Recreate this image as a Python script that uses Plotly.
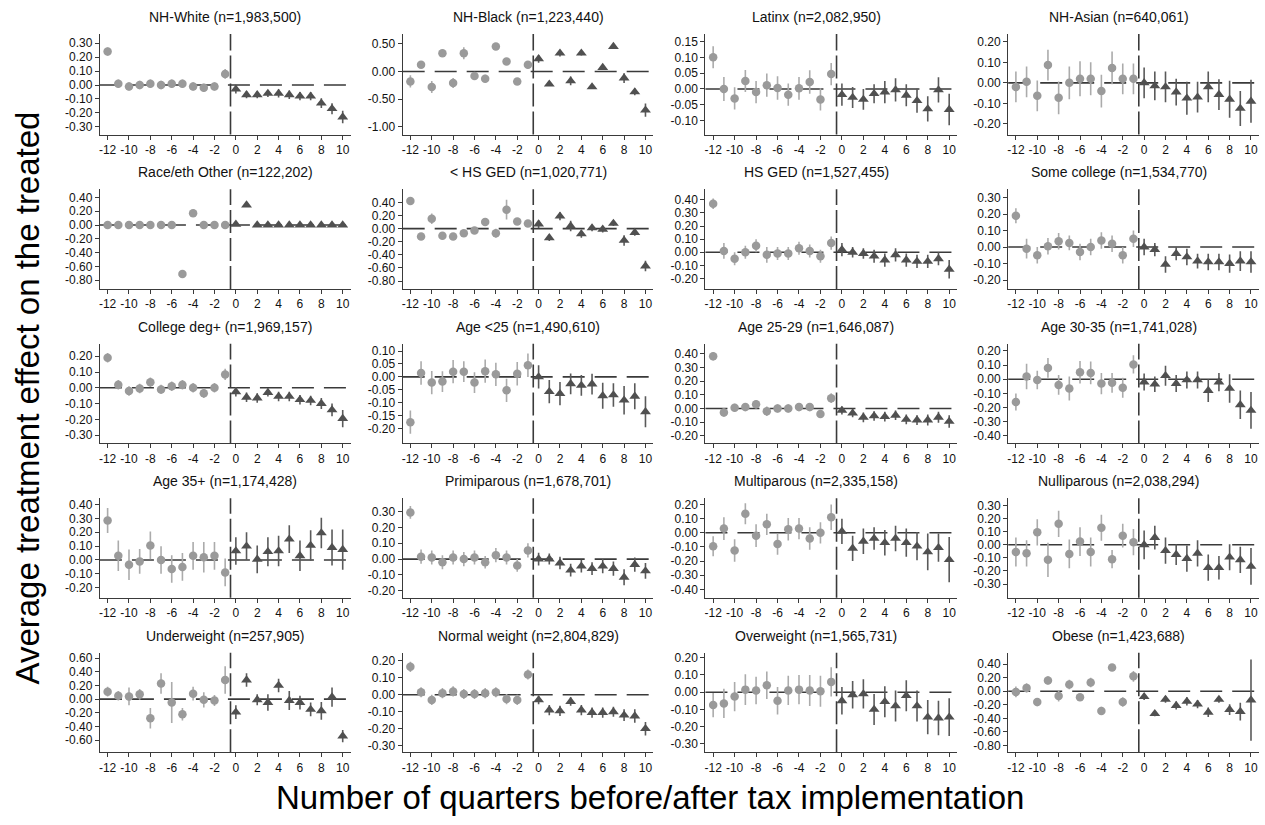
import plotly.graph_objects as go

quarters = list(range(-12, 11))
x_tickvals = [-12, -10, -8, -6, -4, -2, 0, 2, 4, 6, 8, 10]
x_ticktext = ["-12", "-10", "-8", "-6", "-4", "-2", "0", "2", "4", "6", "8", "10"]

titles = [
    "NH-White (n=1,983,500)", "NH-Black (n=1,223,440)", "Latinx (n=2,082,950)", "NH-Asian (n=640,061)",
    "Race/eth Other (n=122,202)", "< HS GED (n=1,020,771)", "HS GED (n=1,527,455)", "Some college (n=1,534,770)",
    "College deg+ (n=1,969,157)", "Age <25 (n=1,490,610)", "Age 25-29 (n=1,646,087)", "Age 30-35 (n=1,741,028)",
    "Age 35+ (n=1,174,428)", "Primiparous (n=1,678,701)", "Multiparous (n=2,335,158)", "Nulliparous (n=2,038,294)",
    "Underweight (n=257,905)", "Normal weight (n=2,804,829)", "Overweight (n=1,565,731)", "Obese (n=1,423,688)",
]

nh_white_est = [0.24, 0.01, -0.01, 0.00, 0.01, 0.00, 0.01, 0.01, -0.01, -0.02, -0.01, 0.08, -0.03, -0.07, -0.07, -0.06, -0.06, -0.07, -0.08, -0.08, -0.13, -0.17, -0.23]
nh_white_ci = [0.03, 0.03, 0.03, 0.03, 0.03, 0.03, 0.03, 0.03, 0.03, 0.03, 0.03, 0.035, 0.03, 0.025, 0.025, 0.025, 0.03, 0.03, 0.03, 0.03, 0.035, 0.04, 0.045]
nh_black_est = [-0.18, 0.12, -0.28, 0.33, -0.21, 0.33, -0.08, -0.13, 0.45, 0.18, -0.18, 0.12, 0.23, -0.23, 0.33, -0.17, 0.33, -0.28, 0.07, 0.45, -0.12, -0.37, -0.70]
nh_black_ci = [0.11, 0.05, 0.11, 0.05, 0.09, 0.11, 0.03, 0.07, 0.04, 0.03, 0.05, 0.07, 0.07, 0.02, 0.06, 0.08, 0.04, 0.03, 0.04, 0.02, 0.09, 0.06, 0.12]
latinx_est = [0.10, 0.00, -0.03, 0.025, -0.01, 0.012, 0.003, -0.018, 0.002, 0.022, -0.033, 0.047, -0.018, -0.027, -0.033, -0.015, -0.01, -0.003, -0.02, -0.037, -0.063, -0.003, -0.065]
latinx_ci = [0.035, 0.038, 0.035, 0.035, 0.035, 0.037, 0.037, 0.035, 0.036, 0.037, 0.035, 0.035, 0.035, 0.033, 0.033, 0.03, 0.035, 0.037, 0.035, 0.038, 0.04, 0.04, 0.05]
nh_asian_est = [-0.02, 0.005, -0.063, 0.087, -0.073, 0.00, 0.02, 0.02, -0.04, 0.073, 0.02, 0.02, 0.00, -0.015, -0.02, -0.045, -0.075, -0.07, -0.02, -0.057, -0.08, -0.125, -0.09]
nh_asian_ci = [0.075, 0.075, 0.075, 0.075, 0.08, 0.08, 0.085, 0.08, 0.08, 0.08, 0.075, 0.075, 0.075, 0.07, 0.075, 0.065, 0.08, 0.075, 0.075, 0.075, 0.09, 0.085, 0.105]
other_est = [0.0, 0.0, 0.0, 0.0, 0.0, 0.0, 0.0, -0.71, 0.17, 0.0, 0.0, 0.0, 0.01, 0.29, 0.0, 0.0, 0.0, 0.0, 0.0, 0.0, 0.0, 0.0, 0.0]
other_ci = [0.005, 0.005, 0.005, 0.005, 0.005, 0.005, 0.005, 0.01, 0.01, 0.005, 0.005, 0.005, 0.005, 0.01, 0.005, 0.005, 0.005, 0.005, 0.005, 0.005, 0.005, 0.005, 0.005]
lt_hs_est = [0.42, -0.12, 0.15, -0.11, -0.12, -0.07, -0.03, 0.10, -0.07, 0.29, 0.11, 0.08, 0.07, -0.14, 0.19, 0.04, -0.08, 0.01, -0.01, 0.08, -0.18, -0.06, -0.57]
lt_hs_ci = [0.04, 0.04, 0.08, 0.05, 0.05, 0.05, 0.04, 0.03, 0.07, 0.15, 0.04, 0.04, 0.06, 0.05, 0.06, 0.08, 0.06, 0.05, 0.05, 0.04, 0.08, 0.05, 0.08]
hs_est = [0.37, 0.01, -0.05, 0.00, 0.05, -0.02, -0.01, -0.01, 0.03, 0.01, -0.03, 0.07, 0.02, 0.00, -0.01, -0.03, -0.06, -0.02, -0.06, -0.07, -0.07, -0.05, -0.13]
hs_ci = [0.04, 0.06, 0.05, 0.05, 0.05, 0.06, 0.05, 0.05, 0.05, 0.05, 0.05, 0.05, 0.05, 0.04, 0.04, 0.05, 0.05, 0.05, 0.05, 0.05, 0.05, 0.05, 0.07]
some_col_est = [0.19, -0.01, -0.05, 0.005, 0.035, 0.025, -0.03, 0.00, 0.04, 0.02, -0.05, 0.05, 0.00, -0.015, -0.105, -0.04, -0.06, -0.085, -0.09, -0.09, -0.10, -0.085, -0.09]
some_col_ci = [0.045, 0.06, 0.05, 0.05, 0.05, 0.045, 0.05, 0.05, 0.05, 0.05, 0.05, 0.05, 0.05, 0.04, 0.05, 0.04, 0.05, 0.045, 0.05, 0.05, 0.055, 0.06, 0.065]
col_deg_est = [0.19, 0.02, -0.02, -0.005, 0.035, -0.01, 0.01, 0.02, 0.00, -0.035, 0.00, 0.085, -0.025, -0.06, -0.065, -0.03, -0.055, -0.055, -0.075, -0.08, -0.10, -0.14, -0.195]
col_deg_ci = [0.03, 0.03, 0.03, 0.03, 0.03, 0.03, 0.03, 0.03, 0.03, 0.03, 0.03, 0.035, 0.03, 0.03, 0.03, 0.025, 0.03, 0.03, 0.03, 0.03, 0.035, 0.04, 0.055]
age_lt25_est = [-0.175, 0.015, -0.022, -0.018, 0.02, 0.02, -0.022, 0.022, 0.01, -0.052, 0.012, 0.045, 0.00, -0.057, -0.065, -0.027, -0.033, -0.028, -0.073, -0.07, -0.09, -0.075, -0.135]
age_lt25_ci = [0.045, 0.045, 0.045, 0.04, 0.045, 0.04, 0.04, 0.045, 0.045, 0.045, 0.045, 0.045, 0.045, 0.045, 0.045, 0.04, 0.04, 0.04, 0.05, 0.045, 0.055, 0.05, 0.06]
age_2529_est = [0.38, -0.03, 0.005, 0.01, 0.03, -0.02, 0.00, 0.00, 0.01, 0.01, -0.04, 0.075, -0.015, -0.035, -0.065, -0.055, -0.06, -0.05, -0.08, -0.085, -0.085, -0.065, -0.095]
age_2529_ci = [0.03, 0.03, 0.03, 0.03, 0.03, 0.035, 0.03, 0.03, 0.03, 0.03, 0.03, 0.035, 0.03, 0.03, 0.035, 0.035, 0.035, 0.035, 0.035, 0.035, 0.04, 0.04, 0.045]
age_3035_est = [-0.16, 0.02, -0.005, 0.08, -0.04, -0.065, 0.05, 0.045, -0.03, -0.025, -0.06, 0.105, -0.02, -0.035, 0.025, -0.03, -0.005, -0.005, -0.08, -0.02, -0.065, -0.18, -0.22]
age_3035_ci = [0.06, 0.09, 0.065, 0.07, 0.07, 0.085, 0.08, 0.08, 0.075, 0.07, 0.07, 0.065, 0.06, 0.055, 0.07, 0.06, 0.06, 0.06, 0.08, 0.065, 0.10, 0.10, 0.13]
age_35p_est = [0.285, 0.03, -0.035, -0.01, 0.105, 0.00, -0.065, -0.05, 0.03, 0.02, 0.03, -0.09, 0.065, 0.10, 0.005, 0.06, 0.065, 0.15, 0.03, 0.105, 0.195, 0.09, 0.075]
age_35p_ci = [0.09, 0.11, 0.11, 0.09, 0.10, 0.10, 0.10, 0.10, 0.10, 0.11, 0.10, 0.10, 0.10, 0.10, 0.10, 0.105, 0.11, 0.10, 0.11, 0.11, 0.11, 0.13, 0.145]
primi_est = [0.295, 0.015, 0.01, -0.02, 0.01, 0.00, 0.01, -0.02, 0.025, 0.01, -0.04, 0.055, 0.00, 0.00, -0.025, -0.07, -0.045, -0.06, -0.045, -0.06, -0.115, -0.035, -0.075]
primi_ci = [0.04, 0.045, 0.045, 0.045, 0.045, 0.045, 0.045, 0.04, 0.045, 0.045, 0.04, 0.045, 0.04, 0.035, 0.04, 0.04, 0.04, 0.04, 0.045, 0.045, 0.05, 0.045, 0.05]
multi_est = [-0.095, 0.03, -0.125, 0.135, -0.02, 0.06, -0.08, 0.025, 0.03, -0.04, 0.00, 0.11, 0.01, -0.11, -0.06, -0.04, -0.07, -0.04, -0.07, -0.095, -0.135, -0.105, -0.19]
multi_ci = [0.07, 0.08, 0.08, 0.075, 0.08, 0.075, 0.075, 0.08, 0.075, 0.08, 0.075, 0.09, 0.09, 0.09, 0.09, 0.08, 0.09, 0.09, 0.10, 0.10, 0.13, 0.10, 0.16]
nulli_est = [-0.055, -0.065, 0.095, -0.115, 0.16, -0.07, 0.025, -0.055, 0.13, -0.11, 0.07, 0.02, 0.00, 0.055, -0.045, -0.075, -0.105, -0.065, -0.175, -0.175, -0.095, -0.115, -0.165]
nulli_ci = [0.11, 0.10, 0.10, 0.13, 0.10, 0.11, 0.11, 0.11, 0.10, 0.07, 0.09, 0.10, 0.11, 0.09, 0.10, 0.08, 0.10, 0.10, 0.10, 0.09, 0.10, 0.10, 0.14]
under_est = [0.11, 0.05, 0.04, 0.07, -0.28, 0.23, -0.05, -0.22, 0.08, -0.01, -0.02, 0.28, -0.19, 0.28, -0.01, -0.05, 0.20, -0.02, -0.05, -0.15, -0.17, 0.03, -0.54]
under_ci = [0.07, 0.07, 0.13, 0.08, 0.15, 0.15, 0.30, 0.09, 0.10, 0.11, 0.08, 0.20, 0.10, 0.10, 0.08, 0.12, 0.10, 0.14, 0.10, 0.10, 0.13, 0.14, 0.09]
normal_est = [0.165, 0.015, -0.03, 0.01, 0.02, 0.005, 0.005, 0.01, 0.015, -0.025, -0.03, 0.12, -0.03, -0.09, -0.095, -0.04, -0.09, -0.105, -0.105, -0.10, -0.12, -0.125, -0.20]
normal_ci = [0.03, 0.03, 0.03, 0.03, 0.03, 0.03, 0.03, 0.03, 0.03, 0.03, 0.03, 0.03, 0.025, 0.03, 0.03, 0.025, 0.03, 0.03, 0.03, 0.03, 0.035, 0.04, 0.04]
over_est = [-0.075, -0.065, -0.025, 0.015, 0.01, 0.04, -0.05, 0.01, 0.015, 0.01, 0.005, 0.06, -0.05, -0.015, -0.01, -0.10, -0.055, -0.08, -0.02, -0.08, -0.145, -0.15, -0.145]
over_ci = [0.07, 0.085, 0.085, 0.09, 0.08, 0.08, 0.08, 0.085, 0.085, 0.09, 0.09, 0.085, 0.08, 0.08, 0.085, 0.09, 0.09, 0.09, 0.09, 0.09, 0.10, 0.10, 0.11]
obese_est = [-0.01, 0.05, -0.16, 0.16, -0.07, 0.10, -0.09, 0.13, -0.29, 0.35, -0.16, 0.22, -0.08, -0.33, -0.12, -0.21, -0.15, -0.19, -0.31, -0.12, -0.27, -0.30, -0.13]
obese_ci = [0.08, 0.07, 0.06, 0.06, 0.08, 0.07, 0.05, 0.07, 0.06, 0.04, 0.07, 0.08, 0.05, 0.04, 0.05, 0.06, 0.06, 0.06, 0.07, 0.05, 0.08, 0.13, 0.60]

estimates = [nh_white_est, nh_black_est, latinx_est, nh_asian_est, other_est, lt_hs_est, hs_est, some_col_est,
             col_deg_est, age_lt25_est, age_2529_est, age_3035_est, age_35p_est, primi_est, multi_est, nulli_est,
             under_est, normal_est, over_est, obese_est]
cis = [nh_white_ci, nh_black_ci, latinx_ci, nh_asian_ci, other_ci, lt_hs_ci, hs_ci, some_col_ci,
       col_deg_ci, age_lt25_ci, age_2529_ci, age_3035_ci, age_35p_ci, primi_ci, multi_ci, nulli_ci,
       under_ci, normal_ci, over_ci, obese_ci]

y_tickvals = [
    [-0.3, -0.2, -0.1, 0.0, 0.1, 0.2, 0.3],
    [-1.0, -0.5, 0.0, 0.5],
    [-0.10, -0.05, 0.0, 0.05, 0.10, 0.15],
    [-0.2, -0.1, 0.0, 0.1, 0.2],
    [-0.8, -0.6, -0.4, -0.2, 0.0, 0.2, 0.4],
    [-0.8, -0.6, -0.4, -0.2, 0.0, 0.2, 0.4],
    [-0.2, -0.1, 0.0, 0.1, 0.2, 0.3, 0.4],
    [-0.2, -0.1, 0.0, 0.1, 0.2, 0.3],
    [-0.3, -0.2, -0.1, 0.0, 0.1, 0.2],
    [-0.20, -0.15, -0.10, -0.05, 0.0, 0.05, 0.10],
    [-0.2, -0.1, 0.0, 0.1, 0.2, 0.3, 0.4],
    [-0.4, -0.3, -0.2, -0.1, 0.0, 0.1, 0.2],
    [-0.2, -0.1, 0.0, 0.1, 0.2, 0.3, 0.4],
    [-0.2, -0.1, 0.0, 0.1, 0.2, 0.3],
    [-0.4, -0.3, -0.2, -0.1, 0.0, 0.1, 0.2],
    [-0.3, -0.2, -0.1, 0.0, 0.1, 0.2, 0.3],
    [-0.6, -0.4, -0.2, 0.0, 0.2, 0.4, 0.6],
    [-0.3, -0.2, -0.1, 0.0, 0.1, 0.2],
    [-0.3, -0.2, -0.1, 0.0, 0.1, 0.2],
    [-0.8, -0.6, -0.4, -0.2, 0.0, 0.2, 0.4],
]

# axis extents (layout)
y_ranges = [
    [-0.355, 0.367], [-1.14, 0.68], [-0.144, 0.174], [-0.252, 0.239],
    [-0.929, 0.519], [-0.92, 0.60], [-0.28, 0.48], [-0.254, 0.35],
    [-0.352, 0.279], [-0.257, 0.128], [-0.255, 0.472], [-0.453, 0.251],
    [-0.273, 0.446], [-0.245, 0.385], [-0.46, 0.245], [-0.405, 0.356],
    [-0.776, 0.68], [-0.339, 0.249], [-0.349, 0.23], [-0.90, 0.57],
]

W, H = 1265, 825
col_px = [(99, 350), (402, 653), (705, 957), (1008, 1259)]
title_shift = [0, 0, -15, -15]
row_px = [(32, 133), (188, 288), (343, 443), (498, 598), (653, 753)]

FONT = "Liberation Sans, Arial, sans-serif"
PRE_MARK = "#9a9a9a"
PRE_ERR = "#ababab"
POST_MARK = "#505050"
POST_ERR = "#5a5a5a"
LINE = "#3a3a3a"

fig = go.Figure()
shapes = []
annotations = []

for i in range(20):
    r, c = divmod(i, 4)
    k = i + 1
    xa = "x" if k == 1 else f"x{k}"
    ya = "y" if k == 1 else f"y{k}"
    est = estimates[i]
    ci = cis[i]
    fig.add_trace(go.Scatter(
        x=quarters[:12], y=est[:12], mode="markers", xaxis=xa, yaxis=ya,
        marker=dict(symbol="circle", size=8.5, color=PRE_MARK),
        error_y=dict(type="data", array=ci[:12], color=PRE_ERR, thickness=1.6, width=0),
        showlegend=False, hoverinfo="x+y"))
    fig.add_trace(go.Scatter(
        x=quarters[12:], y=est[12:], mode="markers", xaxis=xa, yaxis=ya,
        marker=dict(symbol="triangle-up", size=9.5, color=POST_MARK),
        error_y=dict(type="data", array=ci[12:], color=POST_ERR, thickness=1.6, width=0),
        showlegend=False, hoverinfo="x+y"))

    x0, x1 = col_px[c]
    t0, t1 = row_px[r]
    xkey = "xaxis" if k == 1 else f"xaxis{k}"
    ykey = "yaxis" if k == 1 else f"yaxis{k}"
    fig.layout[xkey] = dict(
        domain=[x0 / W, x1 / W], anchor=ya, range=[-12.72, 10.75],
        tickvals=x_tickvals, ticktext=x_ticktext, showline=True, linecolor=LINE, linewidth=1.2,
        ticks="outside", ticklen=4, tickcolor=LINE, tickwidth=1, showgrid=False, zeroline=False,
        tickfont=dict(family=FONT, size=12, color="#111111"), fixedrange=True)
    fig.layout[ykey] = dict(
        domain=[1 - t1 / H, 1 - t0 / H], anchor=xa, range=y_ranges[i],
        tickvals=y_tickvals[i], ticktext=[f"{v:.2f}" for v in y_tickvals[i]],
        showline=True, linecolor=LINE, linewidth=1.2,
        ticks="outside", ticklen=4, tickcolor=LINE, tickwidth=1, showgrid=False, zeroline=False,
        tickfont=dict(family=FONT, size=12, color="#111111"), fixedrange=True)

    shapes.append(dict(type="line", xref=f"{xa} domain", yref=ya, x0=0, x1=1, y0=0, y1=0,
                       line=dict(color=LINE, width=1.6, dash="22px,10px"), layer="below"))
    shapes.append(dict(type="line", xref=xa, yref=f"{ya} domain", x0=-0.5, x1=-0.5, y0=0, y1=1,
                       line=dict(color=LINE, width=1.6, dash="23px,5px"), layer="below"))
    annotations.append(dict(text=titles[i], xref="paper", yref="paper",
                            x=((x0 + x1) / 2 + title_shift[c]) / W, y=1 - (t0 - 17) / H,
                            xanchor="center", yanchor="middle", showarrow=False,
                            font=dict(family=FONT, size=14, color="#111111")))

annotations.append(dict(text="Number of quarters before/after tax implementation", xref="paper", yref="paper",
                        x=650 / W, y=1 - 798 / H, xanchor="center", yanchor="middle", showarrow=False,
                        font=dict(family=FONT, size=33, color="#000000")))
annotations.append(dict(text="Average treatment effect on the treated", xref="paper", yref="paper",
                        x=27 / W, y=1 - 397 / H, xanchor="center", yanchor="middle", showarrow=False,
                        textangle=-90, font=dict(family=FONT, size=33, color="#000000")))

fig.update_layout(width=W, height=H, margin=dict(l=0, r=0, t=0, b=0),
                  paper_bgcolor="white", plot_bgcolor="white",
                  shapes=shapes, annotations=annotations, showlegend=False)

fig.write_html("out.html")
